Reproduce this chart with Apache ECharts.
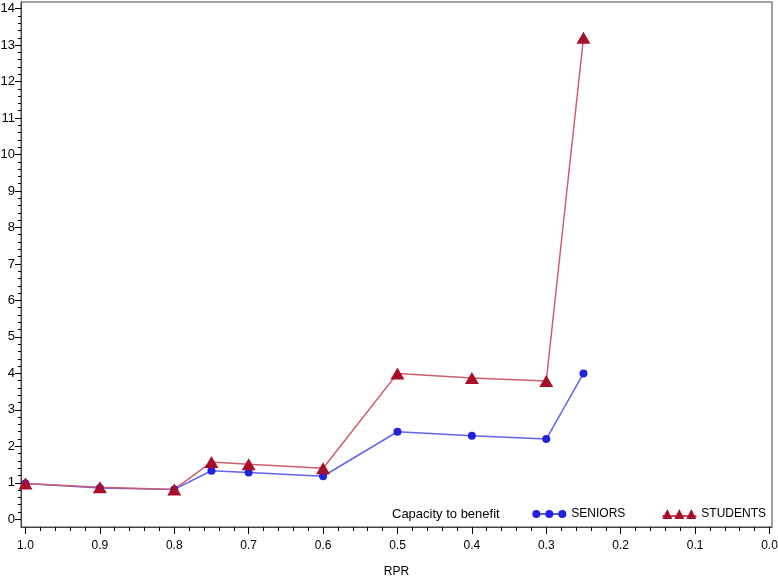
<!DOCTYPE html>
<html>
<head>
<meta charset="utf-8">
<script src="https://cdn.jsdelivr.net/npm/echarts@6/dist/echarts.min.js"></script>
<style>
  html, body { margin: 0; padding: 0; background: #fff; }
  #chart { width: 778px; height: 576px; }
</style>
</head>
<body>
<div id="chart"></div>
<script>
// RPR values (x)
var rpr = [1.0, 0.9, 0.8, 0.75, 0.7, 0.6, 0.5, 0.4, 0.3, 0.25]
var seniors = [0.98, 0.86, 0.82, 1.33, 1.28, 1.18, 2.40, 2.29, 2.20, 4.0]
var students = [0.98, 0.88, 0.82, 1.57, 1.51, 1.40, 4.0, 3.87, 3.79, 13.2]
var xTicks = [0, 0.1, 0.2, 0.3, 0.4, 0.5, 0.6, 0.7, 0.8, 0.9, 1.0]
var yTicks = [0, 1, 2, 3, 4, 5, 6, 7, 8, 9, 10, 11, 12, 13, 14]
var legendTitle = 'Capacity to benefit'

var font = 'Liberation Sans, Arial, sans-serif'
var toPairs = function (ys) { return rpr.map(function (x, i) { return [x, ys[i]] }) }

// minor ticks: 5 steps between major ticks
var minors = function (ticks) {
  var out = []
  for (var i = 0; i < ticks.length - 1; i++) {
    var step = (ticks[i + 1] - ticks[i]) / 5
    for (var k = 1; k < 5; k++) out.push(ticks[i] + step * k)
  }
  return out
}

// plot frame sits a little outside the tick range (SAS style)
var xMin = -0.0034, xMax = 1.006
var yMin = -0.211, yMax = 14.18

// legend icons: three markers joined by a line (all subpaths clockwise)
var circleIcon = 'path://M0,4.2L34,4.2L34,5.8L0,5.8Z M0,5A4,4 0 1,1 8,5A4,4 0 1,1 0,5Z M13,5A4,4 0 1,1 21,5A4,4 0 1,1 13,5Z M26,5A4,4 0 1,1 34,5A4,4 0 1,1 26,5Z'
var triIcon = 'path://M0,6.2L34,6.2L34,7.8L0,7.8Z M0,10L5,0L10,10Z M12,10L17,0L22,10Z M24,10L29,0L34,10Z'

var hidden = { axisLine: { show: false, onZero: false }, axisLabel: { show: false }, splitLine: { show: false } }

var chart = echarts.init(document.getElementById('chart'))
chart.setOption({
  animation: false,
  textStyle: { fontFamily: font },
  grid: {
    left: 21, right: 6, top: 2, bottom: 49, containLabel: false, outerBoundsMode: 'none',
    show: true, borderColor: '#444', borderWidth: 1
  },
  title: {
    text: legendTitle, left: 387, top: 503,
    textStyle: { fontSize: 13, fontWeight: 'normal', color: '#000', fontFamily: font }
  },
  legend: {
    right: 7, top: 503, itemGap: 37, itemWidth: 34, itemHeight: 10,
    textStyle: { fontSize: 12, color: '#000', fontFamily: font },
    data: [
      { name: 'SENIORS', icon: circleIcon, itemStyle: { color: '#2222dd' } },
      { name: 'STUDENTS', icon: triIcon, itemStyle: { color: '#a8102a' } }
    ]
  },
  xAxis: [{
    type: 'value', inverse: true, min: xMin, max: xMax,
    name: 'RPR', nameLocation: 'middle', nameGap: 39,
    nameTextStyle: { fontSize: 12, color: '#000' },
    axisLine: { onZero: false, lineStyle: { color: '#444' } },
    axisTick: { length: 7, customValues: xTicks, lineStyle: { color: '#000' } },
    axisLabel: {
      color: '#000', fontSize: 12, margin: 13, customValues: xTicks,
      formatter: function (v) { return v.toFixed(1) }
    },
    splitLine: { show: false }
  }, Object.assign({
    type: 'value', inverse: true, min: xMin, max: xMax, position: 'bottom',
    axisTick: { length: 4, customValues: minors(xTicks), lineStyle: { color: '#000' } }
  }, hidden)],
  yAxis: [{
    type: 'value', min: yMin, max: yMax,
    axisLine: { show: true, onZero: false, lineStyle: { color: '#444' } },
    axisTick: { show: true, length: 6, customValues: yTicks, lineStyle: { color: '#000' } },
    axisLabel: { color: '#000', fontSize: 13, margin: 6, customValues: yTicks },
    splitLine: { show: false }
  }, Object.assign({
    type: 'value', min: yMin, max: yMax, position: 'left',
    axisTick: { show: true, length: 3, customValues: minors(yTicks), lineStyle: { color: '#000' } }
  }, hidden)],
  series: [{
    name: 'SENIORS', type: 'line', data: toPairs(seniors),
    symbol: 'circle', symbolSize: 8,
    itemStyle: { color: '#2222dd' },
    lineStyle: { color: '#6464ee', width: 1.5 }
  }, {
    name: 'STUDENTS', type: 'line', data: toPairs(students),
    symbol: 'triangle', symbolSize: [14, 12],
    itemStyle: { color: '#a8102a' },
    lineStyle: { color: '#cc5e6e', width: 1.5 }
  }]
})
</script>
</body>
</html>
